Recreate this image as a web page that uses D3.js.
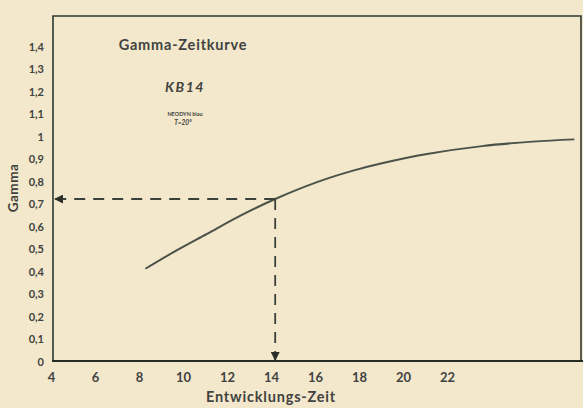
<!DOCTYPE html>
<html>
<head>
<meta charset="utf-8">
<script src="https://cdn.jsdelivr.net/npm/d3@7"></script>
<style>
	body { margin: 0; background: #f3e7cc; }
	svg { display: block; }
	text { font-family: Lato, "Open Sans", sans-serif; font-weight: bold; fill: #414340; }
</style>
</head>
<body>
<svg id="chart"></svg>
<script>
// values
let xTicks = [4, 6, 8, 10, 12, 14, 16, 18, 20, 22];
let yTicks = [0, 0.1, 0.2, 0.3, 0.4, 0.5, 0.6, 0.7, 0.8, 0.9, 1, 1.1, 1.2, 1.3, 1.4];
let zeit = [8.2, 9.5, 11, 12.5, 14.1, 16, 17.6, 19, 21, 23.5, 25.8, 27.7];
let gamma = [0.41, 0.485, 0.565, 0.645, 0.72, 0.795, 0.845, 0.88, 0.92, 0.955, 0.975, 0.985];
let marker = [14.1, 0.72];

let width = 583;
let height = 408;

let svg = d3.select('#chart')
	.attr('width', width)
	.attr('height', height);

let x = d3.scaleLinear().domain([4, 28]).range([53, 581]);
let y = d3.scaleLinear().domain([0, 1.4]).range([361, 46]);

let fmt = function(d) { return String(d).replace('.', ','); };

// frame: left, top, right and bottom
svg.append('path')
	.attr('d', 'M' + x(4) + ',' + y(0) + 'V16H581V' + y(0))
	.attr('fill', 'none')
	.attr('stroke', '#2f3a31')
	.attr('stroke-width', 1.6);
svg.append('line')
	.attr('x1', x(4) - 1).attr('x2', width)
	.attr('y1', y(0)).attr('y2', y(0))
	.attr('stroke', '#262b26')
	.attr('stroke-width', 2.2);

// axes, labels only
let xAxis = svg.append('g')
	.attr('transform', 'translate(0,' + (y(0) + 6) + ')')
	.call(d3.axisBottom(x).tickValues(xTicks).tickSize(0).tickFormat(fmt));
let yAxis = svg.append('g')
	.attr('transform', 'translate(' + (x(4) - 8) + ',0)')
	.call(d3.axisLeft(y).tickValues(yTicks).tickSize(0).tickFormat(fmt));
xAxis.select('.domain').remove();
yAxis.select('.domain').remove();
xAxis.selectAll('text').attr('font-size', 13).attr('dy', '0.9em').attr('x', -2);
yAxis.selectAll('text').attr('font-size', 11).attr('x', -1).attr('dy', '0.4em');

// the curve
let line = d3.line()
	.x(function(d, i) { return x(zeit[i]); })
	.y(function(d, i) { return y(gamma[i]); })
	.curve(d3.curveCatmullRom);
svg.append('path')
	.datum(zeit)
	.attr('d', line)
	.attr('fill', 'none')
	.attr('stroke', '#4b524a')
	.attr('stroke-width', 2);

// dashed guide lines with arrows
svg.append('defs').append('marker')
	.attr('id', 'arrow')
	.attr('viewBox', '0 0 10 10')
	.attr('refX', 9).attr('refY', 5)
	.attr('markerWidth', 5).attr('markerHeight', 5)
	.attr('orient', 'auto')
	.append('path')
	.attr('d', 'M0,0L10,5L0,10Z')
	.attr('fill', '#2b302b');

svg.append('line')
	.attr('x1', x(marker[0])).attr('y1', y(marker[1]))
	.attr('x2', x(4) + 2).attr('y2', y(marker[1]))
	.attr('stroke', '#3a403a')
	.attr('stroke-width', 1.8)
	.attr('stroke-dasharray', '11,8')
	.attr('marker-end', 'url(#arrow)');
svg.append('line')
	.attr('x1', x(marker[0])).attr('y1', y(marker[1]))
	.attr('x2', x(marker[0])).attr('y2', y(0) - 1)
	.attr('stroke', '#3a403a')
	.attr('stroke-width', 1.8)
	.attr('stroke-dasharray', '11,8')
	.attr('marker-end', 'url(#arrow)');

// titles
svg.append('text')
	.attr('x', 183).attr('y', 50)
	.attr('text-anchor', 'middle')
	.attr('font-size', 14.5)
	.attr('letter-spacing', 0.8)
	.text('Gamma-Zeitkurve');
svg.append('text')
	.attr('x', 185).attr('y', 92)
	.attr('text-anchor', 'middle')
	.attr('font-size', 14)
	.attr('font-style', 'italic')
	.attr('font-weight', 'normal')
	.attr('letter-spacing', 1.5)
	.text('KB14');
svg.append('text')
	.attr('x', 185).attr('y', 116)
	.attr('text-anchor', 'middle')
	.attr('font-size', 5.5)
	.text('NEODYN blau');
svg.append('text')
	.attr('x', 183).attr('y', 125)
	.attr('text-anchor', 'middle')
	.attr('font-size', 6.5)
	.attr('font-style', 'italic')
	.text('T=20°');

svg.append('text')
	.attr('transform', 'translate(18,188) rotate(-90)')
	.attr('text-anchor', 'middle')
	.attr('font-size', 13.5)
	.attr('letter-spacing', 0.5)
	.text('Gamma');
svg.append('text')
	.attr('x', 271).attr('y', 402)
	.attr('text-anchor', 'middle')
	.attr('font-size', 14.5)
	.attr('letter-spacing', 0.8)
	.text('Entwicklungs-Zeit');
</script>
</body>
</html>
